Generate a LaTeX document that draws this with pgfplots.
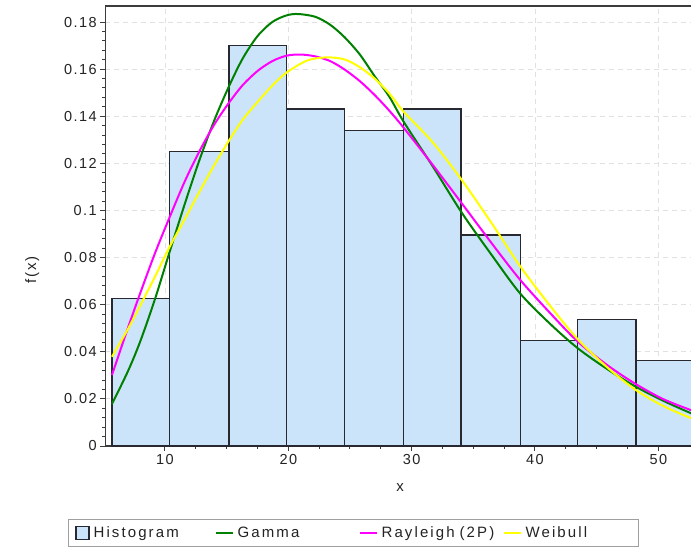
\documentclass[border=0pt]{standalone}
\usepackage{fontspec}
\setmainfont{Liberation Sans}
\newfontfamily\lbl{Liberation Sans}[LetterSpace=10]
\newfontfamily\leg{Liberation Sans}[LetterSpace=14]
\usepackage{pgfplots}
\pgfplotsset{compat=1.18}
\definecolor{barfill}{RGB}{204,228,250}
\definecolor{baredge}{RGB}{40,40,48}
\definecolor{gamgreen}{RGB}{0,128,0}
\definecolor{raymag}{RGB}{255,0,255}
\definecolor{weiyel}{RGB}{255,255,0}
\definecolor{gridc}{RGB}{225,225,225}
\definecolor{axc}{RGB}{60,60,60}
\definecolor{txtc}{RGB}{35,35,35}
\pgfplotstableread{
x y
5.70 0.0627
10.37 0.1249
15.19 0.1699
19.87 0.1431
24.54 0.1339
29.33 0.1431
34.01 0.0896
38.82 0.0449
43.47 0.0536
48.18 0.0362
52.88 0.0362
}\histdata
\begin{document}
\begin{tikzpicture}
\begin{axis}[
  at={(105.3pt,104pt)}, anchor=south west,
  scale only axis, width=590pt, height=440pt,
  xmin=5.16, xmax=53.0, ymin=0, ymax=0.1868,
  xtick={10,20,30,40,50},
  ytick={0,0.02,0.04,0.06,0.08,0.1,0.12,0.14,0.16,0.18},
  minor x tick num=3, minor y tick num=4,
  scaled y ticks=false,
  yticklabel style={/pgf/number format/fixed, /pgf/number format/precision=2},
  /pgf/number format/assume math mode=true,
  tick label style={font=\lbl\fontsize{14.5}{16}\selectfont, text=txtc},
  tick align=outside, xtick pos=left, ytick pos=left,
  major tick length=5pt, minor tick length=3pt,
  tick style={axc, line width=1pt},
  axis line style={axc, line width=1.3pt},
  grid=major,
  major grid style={gridc, dash pattern=on 5pt off 4pt, line width=0.8pt},
  xlabel={x}, ylabel={f(x)},
  xlabel style={font=\lbl\fontsize{15}{16}\selectfont, text=txtc, at={(axis description cs:0.4995,-0.0955)}, anchor=center},
  ylabel style={font=\lbl\fontsize{15}{16}\selectfont, text=txtc, at={(axis description cs:-0.124,0.40)}, anchor=center},
  legend columns=4,
  legend cell align=left,
  legend style={at={(axis description cs:-0.0632,-0.1659)}, anchor=north west,
    draw=gray!75, line width=0.8pt, inner xsep=7pt, inner ysep=5.5pt,
    /tikz/every odd column/.style={column sep=2pt},
    /tikz/every even column/.style={column sep=0pt},
    nodes={text width=119pt, align=left, inner sep=2pt, font=\leg\fontsize{15}{17}\selectfont, text=txtc}},
]
\addplot[ybar interval, fill=barfill, draw=none,
  legend image code/.code={\draw[fill=barfill, draw=baredge, line width=1.2pt] (0pt,-6.5pt) rectangle (13pt,6.5pt);}]
  table[x=x, y=y] {\histdata};
\addlegendentry{Histogram}
\addplot[ybar interval, fill=none, draw=baredge, line width=1.3pt, forget plot]
  table[x=x, y=y] {\histdata};
\addplot[gamgreen, line width=2pt, smooth,
  legend image code/.code={\draw[gamgreen, line width=2pt] (0pt,0pt) -- (17pt,0pt);}]
  coordinates {
  (5.70,0.0178) (7.0,0.0318) (8.0,0.0445) (9.19,0.0624) (10.38,0.0825)
  (11.6,0.1027) (12.8,0.1215) (14.0,0.1383) (15.17,0.1525) (16.3,0.1645)
  (17.5,0.1740) (18.7,0.1800) (19.85,0.1828) (20.8,0.1834) (22.2,0.1822)
  (23.4,0.1788) (24.57,0.1735) (25.8,0.1662) (27.0,0.1570) (28.2,0.1482)
  (29.37,0.1375) (31.7,0.1188) (34.07,0.0990) (36.5,0.0810) (38.79,0.0648)
  (41.2,0.0520) (43.47,0.0415) (45.9,0.0325) (48.17,0.0252) (50.4,0.0192)
  (52.66,0.0139) (53.0,0.0135)
  };
\addlegendentry{Gamma}
\addplot[raymag, line width=2pt, smooth,
  legend image code/.code={\draw[raymag, line width=2pt] (0pt,0pt) -- (17pt,0pt);}]
  coordinates {
  (5.70,0.0301) (7.0,0.0502) (8.0,0.0650) (9.2,0.0820) (10.38,0.0972)
  (11.6,0.1123) (12.8,0.1252) (14.0,0.1365) (15.17,0.1456) (16.3,0.1532)
  (17.5,0.1592) (18.7,0.1634) (19.85,0.1657) (21.0,0.1662) (22.2,0.1654)
  (23.4,0.1634) (24.57,0.1598) (25.8,0.1549) (27.0,0.1490) (28.2,0.1423)
  (29.37,0.1350) (31.7,0.1194) (34.07,0.1030) (36.5,0.0860) (38.79,0.0706)
  (41.2,0.0566) (43.47,0.0443) (45.9,0.0342) (48.17,0.0263) (50.4,0.0199)
  (52.66,0.0152) (53.0,0.0147)
  };
\addlegendentry{Rayleigh (2P)}
\addplot[weiyel, line width=2pt, smooth,
  legend image code/.code={\draw[weiyel, line width=2pt] (0pt,0pt) -- (17pt,0pt);}]
  coordinates {
  (5.70,0.0379) (7.0,0.0497) (8.0,0.0597) (9.2,0.0720) (10.38,0.0846)
  (11.6,0.0963) (12.8,0.1080) (14.0,0.1193) (15.17,0.1295) (16.3,0.1385)
  (17.5,0.1460) (18.7,0.1530) (19.85,0.1585) (21.5,0.1636) (23.1,0.1650)
  (24.57,0.1641) (25.8,0.1608) (27.0,0.1560) (28.2,0.1496) (29.37,0.1418)
  (31.7,0.1290) (34.07,0.1129) (36.5,0.0945) (38.79,0.0764) (41.2,0.0597)
  (43.47,0.0453) (45.9,0.0332) (48.17,0.0238) (50.4,0.0170) (52.66,0.0118)
  (53.0,0.0113)
  };
\addlegendentry[text width=104pt]{Weibull}
\end{axis}
\pgfresetboundingbox
\useasboundingbox (0pt,0pt) rectangle (691pt,550pt);
\end{tikzpicture}
\end{document}
